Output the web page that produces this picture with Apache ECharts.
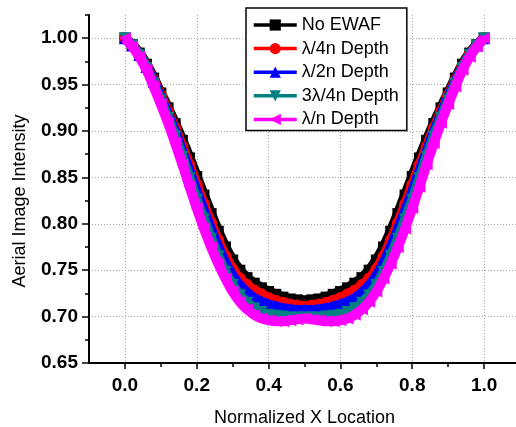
<!DOCTYPE html>
<html><head><meta charset="utf-8">
<script src="https://cdn.jsdelivr.net/npm/echarts@6/dist/echarts.min.js"></script>
<style>html,body{margin:0;padding:0;background:#fff}#c{width:516px;height:427px}</style>
</head><body><div id="c"></div>
<script>
const xs = [0.00,0.02,0.04,0.06,0.08,0.10,0.12,0.14,0.16,0.18,0.20,0.22,0.24,0.26,0.28,0.30,0.32,0.34,0.36,0.38,0.40,0.42,0.44,0.46,0.48,0.50,0.52,0.54,0.56,0.58,0.60,0.62,0.64,0.66,0.68,0.70,0.72,0.74,0.76,0.78,0.80,0.82,0.84,0.86,0.88,0.90,0.92,0.94,0.96,0.98,1.00];
const noEwaf = [1.000,0.993,0.984,0.972,0.957,0.941,0.925,0.908,0.890,0.871,0.851,0.831,0.811,0.792,0.775,0.761,0.750,0.742,0.736,0.731,0.727,0.724,0.721,0.719,0.718,0.717,0.718,0.719,0.721,0.724,0.727,0.731,0.736,0.742,0.750,0.761,0.775,0.792,0.811,0.831,0.851,0.871,0.890,0.908,0.925,0.941,0.957,0.972,0.984,0.993,1.000];
const quarter = [1.000,0.992,0.983,0.970,0.955,0.938,0.921,0.903,0.883,0.863,0.842,0.821,0.801,0.782,0.765,0.751,0.741,0.734,0.728,0.724,0.720,0.717,0.715,0.713,0.712,0.711,0.712,0.713,0.715,0.717,0.720,0.724,0.728,0.734,0.741,0.751,0.765,0.782,0.801,0.821,0.842,0.863,0.883,0.903,0.921,0.938,0.955,0.970,0.983,0.992,1.000];
const half = [1.000,0.992,0.982,0.969,0.953,0.936,0.918,0.899,0.878,0.857,0.835,0.814,0.794,0.775,0.758,0.744,0.734,0.726,0.720,0.716,0.713,0.711,0.709,0.708,0.707,0.707,0.707,0.708,0.709,0.711,0.713,0.716,0.720,0.726,0.734,0.744,0.758,0.775,0.794,0.814,0.835,0.857,0.878,0.899,0.918,0.936,0.953,0.969,0.982,0.992,1.000];
const threeQuarter = [1.000,0.992,0.982,0.968,0.951,0.933,0.914,0.894,0.872,0.849,0.826,0.805,0.784,0.765,0.748,0.734,0.723,0.715,0.709,0.705,0.702,0.701,0.700,0.699,0.699,0.699,0.699,0.699,0.700,0.701,0.702,0.705,0.709,0.715,0.723,0.734,0.748,0.765,0.784,0.805,0.826,0.849,0.872,0.894,0.914,0.933,0.951,0.968,0.982,0.992,1.000];
const full = [1.000,0.991,0.980,0.966,0.948,0.929,0.909,0.887,0.864,0.840,0.817,0.795,0.775,0.757,0.741,0.727,0.716,0.708,0.702,0.698,0.696,0.695,0.695,0.696,0.697,0.698,0.697,0.696,0.695,0.695,0.696,0.698,0.702,0.708,0.716,0.727,0.741,0.757,0.775,0.795,0.817,0.840,0.864,0.887,0.909,0.929,0.948,0.966,0.980,0.991,1.000];
const seriesNames = ['No EWAF','\u03bb/4n Depth','\u03bb/2n Depth','3\u03bb/4n Depth','\u03bb/n Depth'];
const xMajor = [0.0,0.2,0.4,0.6,0.8,1.0];
const xMinor = [0.1,0.3,0.5,0.7,0.9];
const yMajor = [0.65,0.70,0.75,0.80,0.85,0.90,0.95,1.00];
const yMinor = [0.675,0.725,0.775,0.825,0.875,0.925,0.975,1.025];

const colors = ['#000000','#ff0000','#0000ff','#008080','#ff00ff'];
const symbols = ['rect','circle','triangle','triangle','triangle'];
const rots = [0,0,0,180,90];
const sizes = [11,12,12,12,12];
const allData = [noEwaf, quarter, half, threeQuarter, full];
const FONT = 'Liberation Sans, Arial, sans-serif';

const chart = echarts.init(document.getElementById('c'), null, {renderer:'canvas'});
const series = allData.map((d,i)=>({
  name: seriesNames[i], type:'line', xAxisIndex:0, yAxisIndex:0,
  data: xs.map((x,j)=>[x,d[j]]),
  symbol: symbols[i], symbolRotate: rots[i], symbolSize: sizes[i], showAllSymbol:true,
  smooth: true,
  lineStyle:{color:colors[i], width:10},
  itemStyle:{color:colors[i]},
  emphasis:{disabled:true}, z: 2+i
}));
const axisLbl = {fontFamily:FONT, fontWeight:'bold', fontSize:19, color:'#000'};
chart.setOption({
  animation:false,
  backgroundColor:'#fff',
  grid:{left:89, right:-4, top:15, bottom:64, containLabel:false, outerBoundsMode:'none'},
  legend:{
    orient:'vertical', left:246, top:8, padding:[8,8,2,6], itemGap:5.6,
    itemWidth:43, itemHeight:14, backgroundColor:'#fff', borderColor:'#000', borderWidth:1.5,
    borderRadius:0, data: seriesNames,
    lineStyle:{width:3.5},
    textStyle:{fontFamily:FONT, fontSize:18, color:'#000'}, selectedMode:false
  },
  xAxis:[{
    type:'value', min:-0.1, max:1.1, position:'bottom',
    name:'Normalized X Location', nameLocation:'middle', nameGap:46,
    nameTextStyle:{fontFamily:FONT, fontSize:18, color:'#000'},
    axisLine:{onZero:false, lineStyle:{color:'#000', width:2}},
    axisTick:{show:true, customValues:xMajor, length:6, inside:false, lineStyle:{color:'#000', width:1.5}},
    axisLabel:{customValues:xMajor, margin:13, formatter:v=>v.toFixed(1), ...axisLbl},
    splitLine:{show:true, lineStyle:{color:'#a8a8a8', type:[1,2], width:1}}
  },{
    type:'value', min:-0.1, max:1.1, position:'bottom',
    axisLine:{show:false, onZero:false},
    axisTick:{show:true, customValues:xMinor, length:4, lineStyle:{color:'#000', width:1.5}},
    axisLabel:{show:false}, splitLine:{show:false}
  }],
  yAxis:[{
    type:'value', min:0.65, max:1.025, position:'left',
    name:'Aerial Image Intensity', nameLocation:'middle', nameGap:60,
    nameTextStyle:{fontFamily:FONT, fontSize:18, color:'#000', padding:[0,24,0,0]},
    axisLine:{onZero:false, lineStyle:{color:'#000', width:2}},
    axisTick:{show:true, customValues:yMajor, length:7, lineStyle:{color:'#000', width:1.5}},
    axisLabel:{customValues:yMajor, margin:11, formatter:v=>v.toFixed(2), ...axisLbl},
    splitLine:{show:true, lineStyle:{color:'#a8a8a8', type:[1,2], width:1}}
  },{
    type:'value', min:0.65, max:1.025, position:'left',
    axisLine:{show:false, onZero:false},
    axisTick:{show:true, customValues:yMinor, length:4, lineStyle:{color:'#000', width:1.5}},
    axisLabel:{show:false}, splitLine:{show:false}
  }],
  series: series
});
</script></body></html>
